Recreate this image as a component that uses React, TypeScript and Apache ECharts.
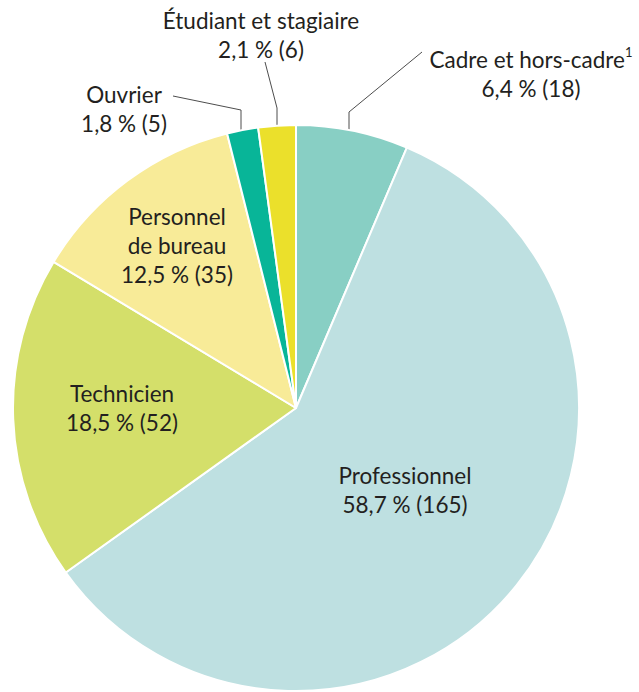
import React, { useEffect, useRef } from "react";
import * as echarts from "echarts";

const categories = [
  "Cadre et hors-cadre",
  "Professionnel",
  "Technicien",
  "Personnel de bureau",
  "Ouvrier",
  "Étudiant et stagiaire",
];
const counts = [18, 165, 52, 35, 5, 6];
const displayNames = [
  "Cadre et hors-cadre{sup|1}",
  "Professionnel",
  "Technicien",
  "Personnel\nde bureau",
  "Ouvrier",
  "Étudiant et stagiaire",
];
const colors = ["#88cfc4", "#bee0e1", "#d4df6a", "#f8eb98", "#08b598", "#ebe02b"];

// label anchor (center) positions in px
const labelPos: number[][] = [
  [531, 74],
  [405, 490],
  [122, 408],
  [177, 245],
  [124, 109],
  [261, 35],
];
const labelLines: (number[][] | null)[] = [
  [[349, 145], [349, 112], [422, 52]],
  null,
  null,
  null,
  [[241, 146], [241, 110], [173, 96]],
  [[277, 146], [277, 108], [265, 62]],
];

const total = counts.reduce((a, b) => a + b, 0);
const fmt = (v: number) => ((v / total) * 100).toFixed(1).replace(".", ",");

export default function App() {
  const ref = useRef<HTMLDivElement>(null);
  useEffect(() => {
    const chart = echarts.init(ref.current!, null, { renderer: "svg" });
    const fontFamily = "Lato, 'Open Sans', sans-serif";
    chart.setOption({
      animation: false,
      backgroundColor: "#ffffff",
      series: [
        {
          type: "pie",
          center: [296, 408],
          radius: [0, 283],
          startAngle: 90,
          clockwise: true,
          avoidLabelOverlap: false,
          itemStyle: { borderColor: "#ffffff", borderWidth: 2 },
          label: {
            show: true,
            position: "inside",
            color: "#231f20",
            fontFamily,
            fontSize: 22.5,
            lineHeight: 29,
            align: "center",
            formatter: (p: any) =>
              `${displayNames[p.dataIndex]}\n${fmt(counts[p.dataIndex])} % (${counts[p.dataIndex]})`,
            rich: {
              sup: { fontSize: 13, verticalAlign: "top", padding: [0, 0, 10, 0], color: "#231f20", fontFamily },
            },
          },
          labelLine: {
            show: true,
            lineStyle: { color: "#4d4d4d", width: 1 },
          },
          labelLayout: (p: any) => {
            const i = p.dataIndex;
            const res: any = {
              x: labelPos[i][0],
              y: labelPos[i][1],
              align: "center",
              verticalAlign: "middle",
            };
            if (labelLines[i]) res.labelLinePoints = labelLines[i];
            return res;
          },
          data: categories.map((c, i) => ({
            name: c,
            value: counts[i],
            itemStyle: { color: colors[i] },
            label: { position: labelLines[i] ? "outside" : "inside" },
            labelLine: { show: !!labelLines[i] },
          })),
        },
      ],
    });
    return () => chart.dispose();
  }, []);
  return (
    <div
      ref={ref}
      style={{ position: "fixed", left: 0, top: 0, width: 639, height: 692 }}
    />
  );
}
